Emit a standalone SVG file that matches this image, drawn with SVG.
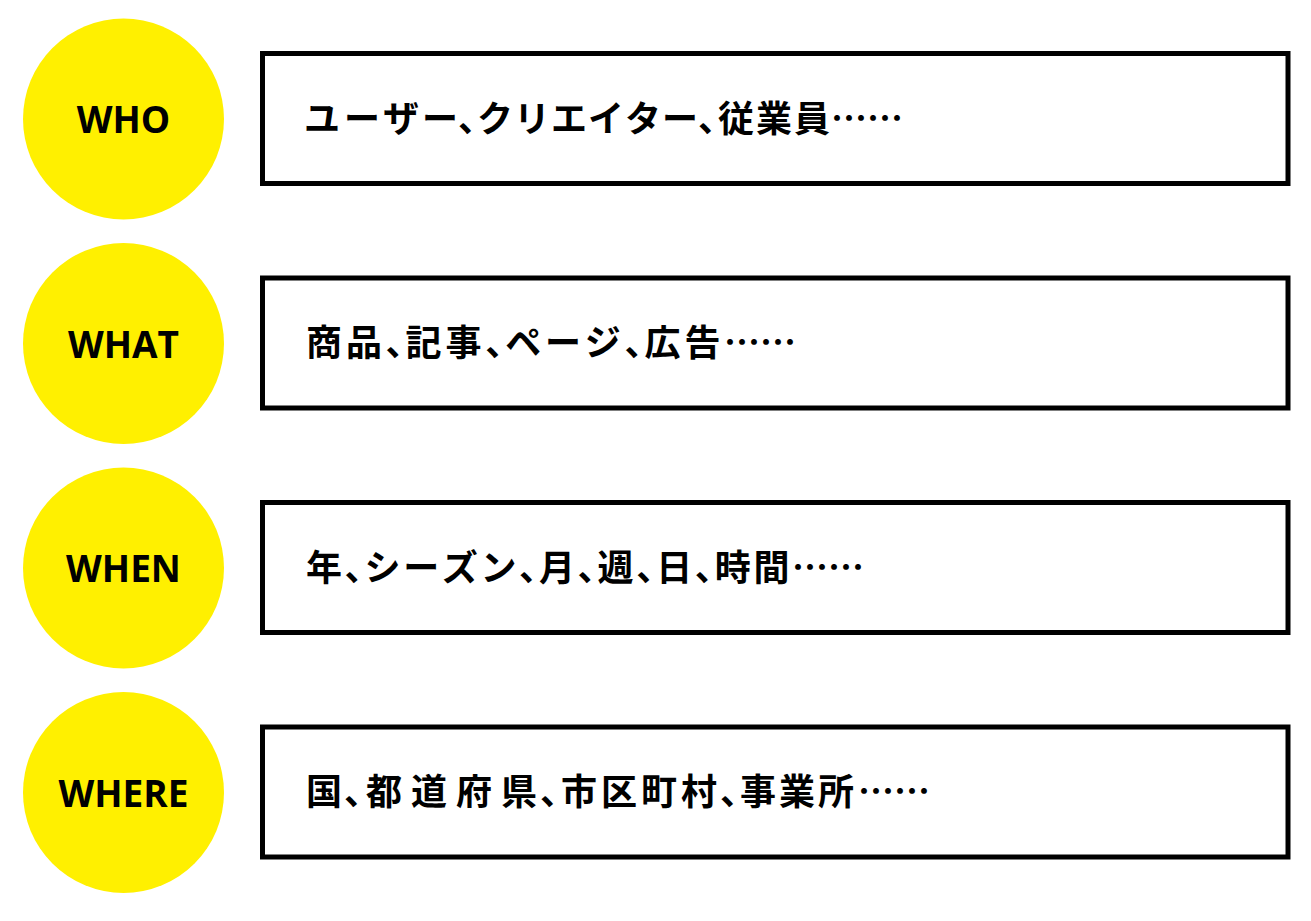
<svg xmlns="http://www.w3.org/2000/svg" width="1311" height="921" viewBox="0 0 1311 921">
<style>
.bg{fill:#ffffff}
.circ{fill:#fff000}
.lbl{font-family:"Open Sans","Noto Sans",sans-serif;font-weight:700;font-size:37px;fill:#000;text-anchor:middle}
.box{fill:#ffffff;stroke:#000;stroke-width:5}
.jp{font-family:"Noto Sans CJK JP","Noto Sans CJK SC",sans-serif;font-weight:700;font-size:36px;fill:#000}
</style>
<rect class="bg" x="0" y="0" width="1311" height="921"/>
<g id="connectors"></g>
<g id="who">
<circle class="circ" cx="123.5" cy="119" r="100.5"/>
<text class="lbl" x="123.5" y="133">WHO</text>
</g>
<g id="who-box">
<rect class="box" x="262.5" y="53.5" width="1025.5" height="130"/>
<text class="jp" y="131.5" x="304 344 383 422 458 477 514 551 588 625 662 698 718 756 794 831">ユーザー、クリエイター、従業員……</text>
</g>
<g id="what">
<circle class="circ" cx="123.5" cy="343.5" r="100.5"/>
<text class="lbl" x="123.5" y="357.5">WHAT</text>
</g>
<g id="what-box">
<rect class="box" x="262.5" y="278" width="1025.5" height="130"/>
<text class="jp" y="356" x="306 346 385.6 405.6 445.4 485.2 505.2 545 584.8 624.6 644.6 684.4 724">商品、記事、ページ、広告……</text>
</g>
<g id="when">
<circle class="circ" cx="123.5" cy="568" r="100.5"/>
<text class="lbl" x="123.5" y="582">WHEN</text>
</g>
<g id="when-box">
<rect class="box" x="262.5" y="502.5" width="1025.5" height="130"/>
<text class="jp" y="580.5" x="306 344.6 364.6 403.2 441.8 480.4 519 539 577.6 597.6 636.2 656.2 694.8 714.8 753.4 792">年、シーズン、月、週、日、時間……</text>
</g>
<g id="where">
<circle class="circ" cx="123.5" cy="792.5" r="100.5"/>
<text class="lbl" x="123.5" y="806.5">WHERE</text>
</g>
<g id="where-box">
<rect class="box" x="262.5" y="727" width="1025.5" height="130"/>
<text class="jp" y="805" x="306 344 366 411 456 501 540 561 601 641 681 720 740 779 818 858">国、都道府県、市区町村、事業所……</text>
</g>
</svg>
